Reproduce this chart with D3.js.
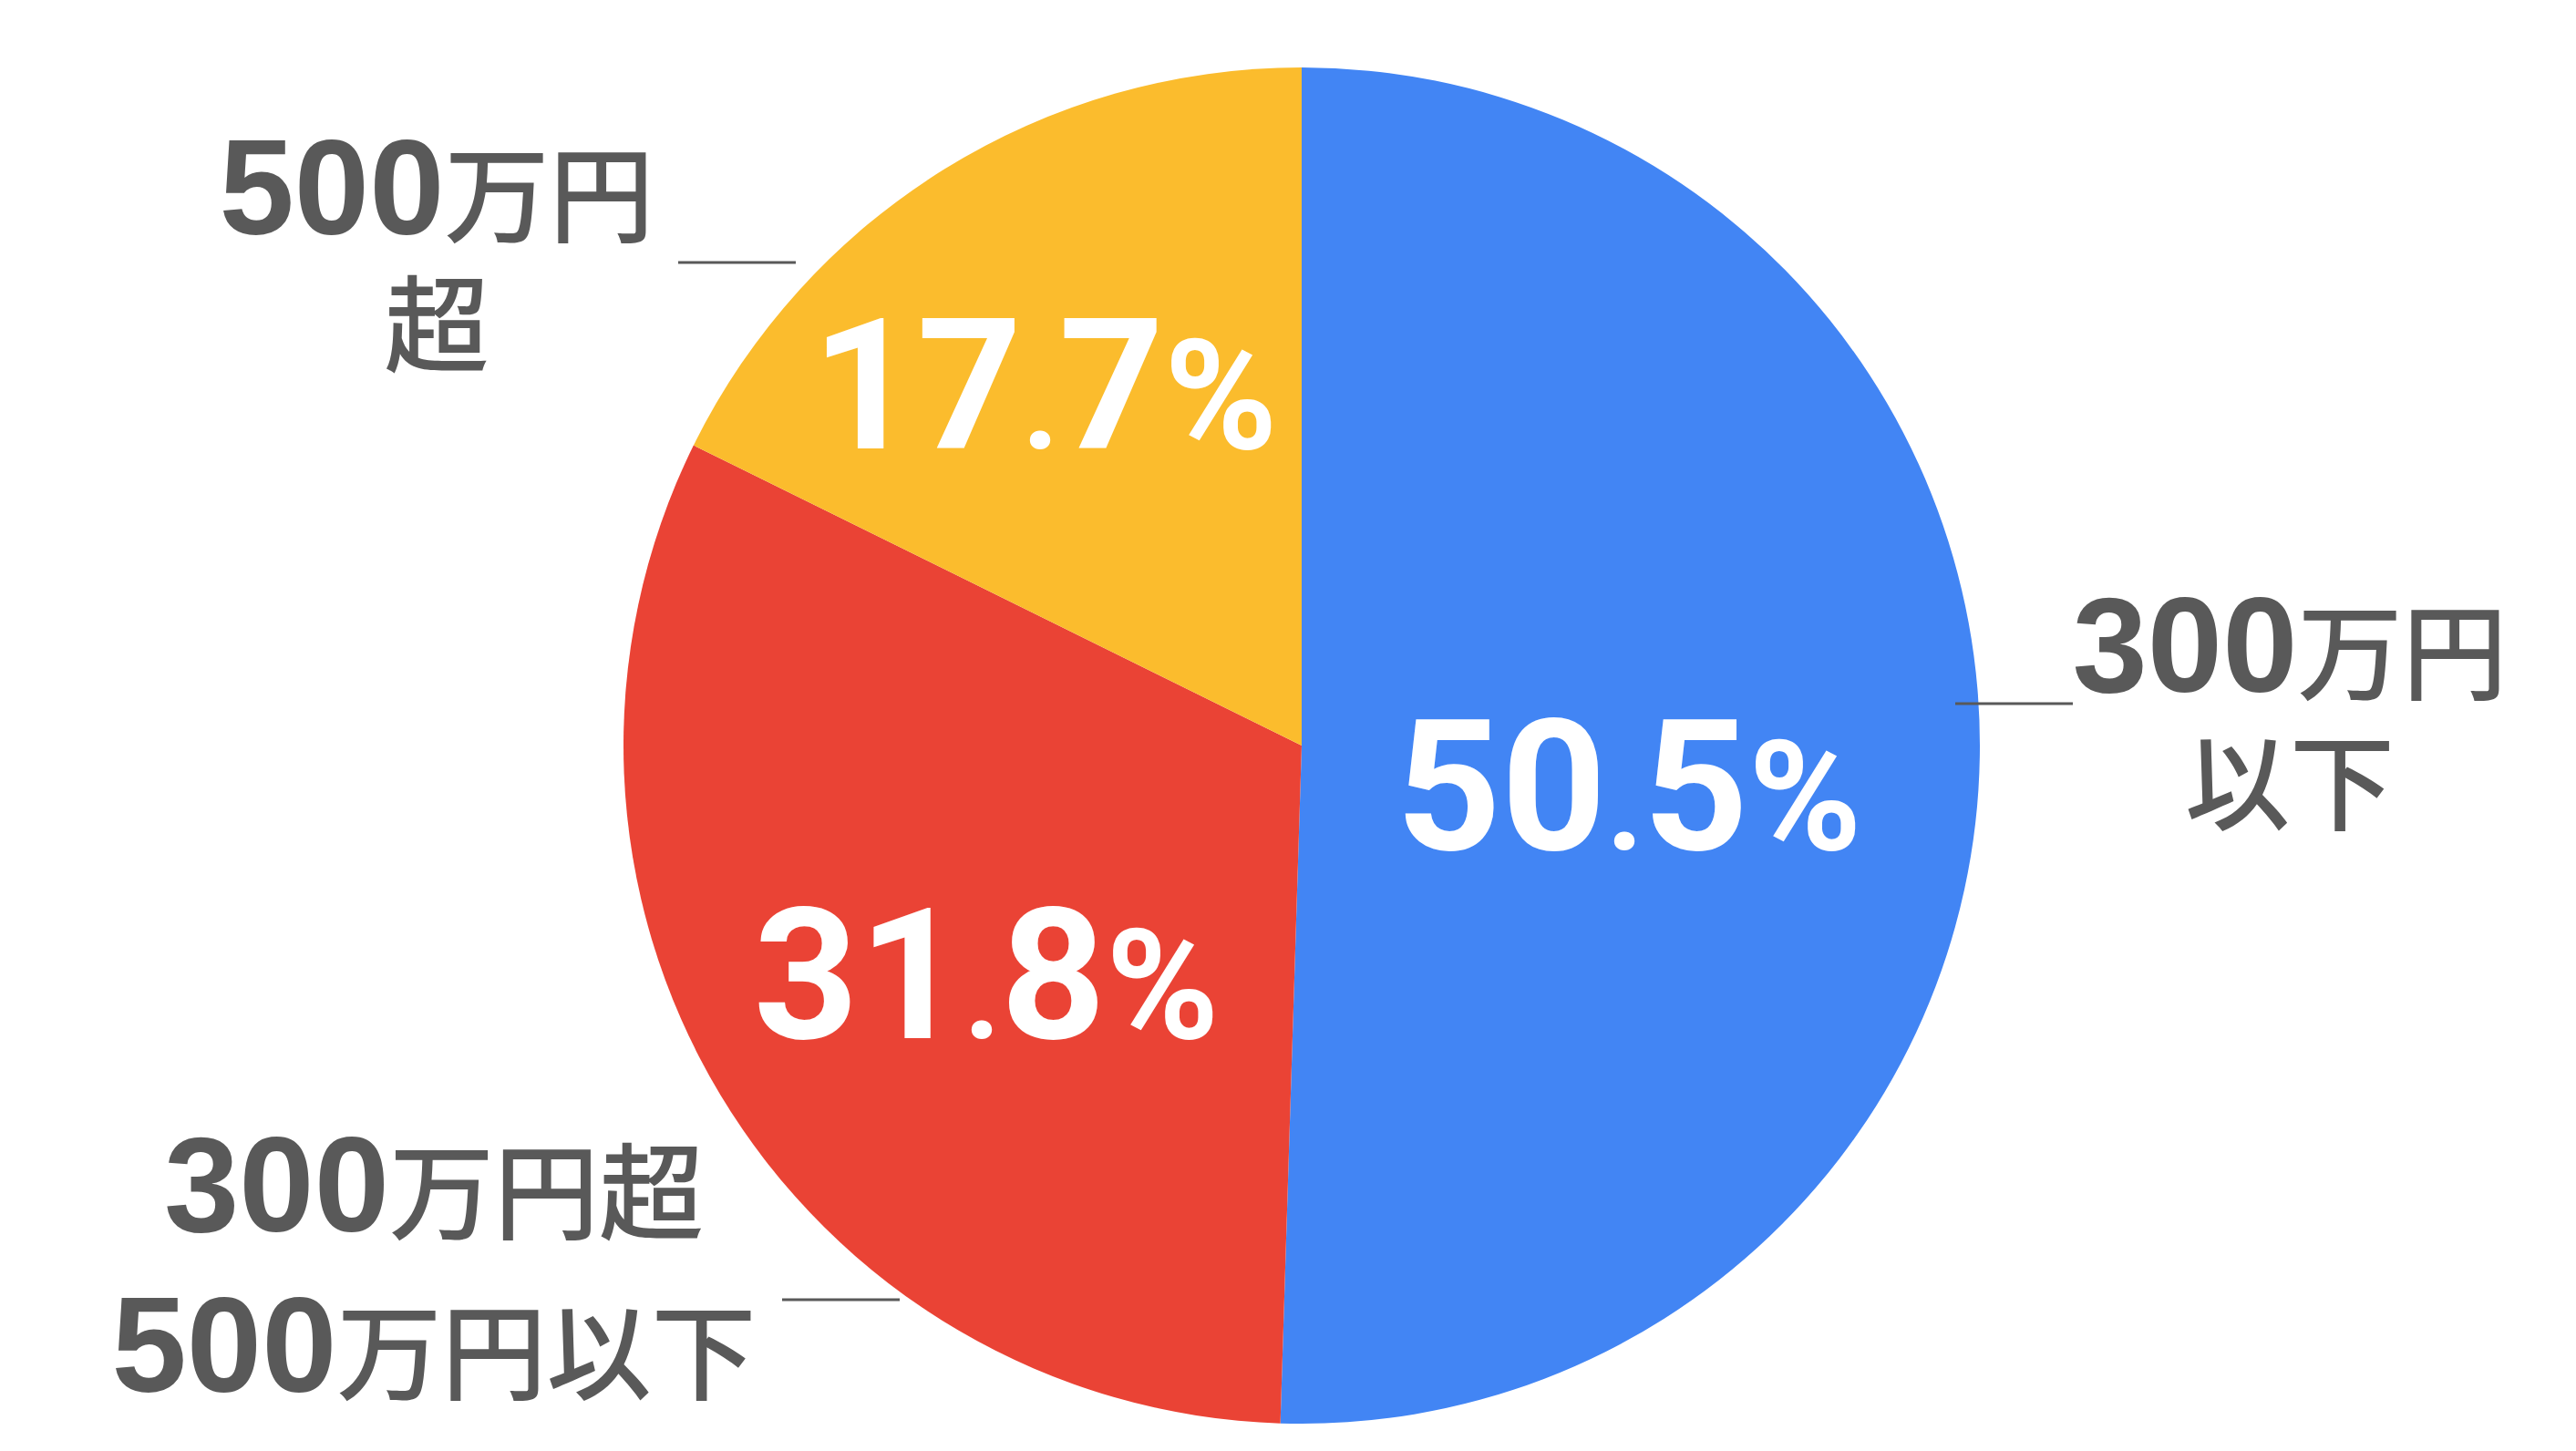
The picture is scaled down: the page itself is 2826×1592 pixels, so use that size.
<!DOCTYPE html>
<html><head><meta charset="utf-8">
<script src="https://cdn.jsdelivr.net/npm/d3@7"></script>
<style>html,body{margin:0;padding:0;background:#fff;overflow:hidden}</style>
</head><body><svg id="c"></svg>
<script>
// ---- data ----
const categories = ["300万円以下", "300万円超500万円以下", "500万円超"];
const values = [50.5, 31.8, 17.7];
const labelLines = [["300万円", "以下"], ["300万円超", "500万円以下"], ["500万円", "超"]];

// ---- style / layout ----
const sliceColors = ["#4285F4", "#EA4335", "#FBBC2D"];
const textGray = "#595959";
const W = 2826, H = 1592;
const cx = 1428, cy = 818, R = 744;
const pctLayout = [{x: 1787, y: 932}, {x: 1082, y: 1139}, {x: 1146, y: 492}];
const labelLayout = [
  {x: 2512, ys: [759, 902], leader: [2145, 2274, 772]},
  {x: 476, ys: [1351, 1527], leader: [858, 987, 1426]},
  {x: 479, ys: [257, 399], leader: [744, 873, 288]}
];
const pctFont = 'Roboto, "Liberation Sans", sans-serif';
const numFont = '"Liberation Sans", Arial, sans-serif';
const jpFont = '"Noto Sans CJK JP", sans-serif';

const svg = d3.select("#c").attr("width", W).attr("height", H);
const g = svg.append("g").attr("transform", `translate(${cx},${cy})`);

const pie = d3.pie().sort(null).value(d => d);
const arc = d3.arc().innerRadius(0).outerRadius(R);
const arcs = pie(values);

g.selectAll("path.slice").data(arcs).join("path")
  .attr("class", "slice")
  .attr("d", arc)
  .attr("fill", (d, i) => sliceColors[i]);

// percent labels
const fmt = d3.format(".1f");
arcs.forEach((d, i) => {
  const [ip, dp] = fmt(d.data).split(".");
  const t = svg.append("text")
    .attr("x", pctLayout[i].x).attr("y", pctLayout[i].y)
    .attr("text-anchor", "middle")
    .attr("fill", "#fff")
    .style("font-family", pctFont)
    .style("font-weight", 700);
  t.append("tspan").style("font-size", "201px").text(ip);
  t.append("tspan").style("font-size", "140px").text(".");
  t.append("tspan").style("font-size", "201px").text(dp);
  t.append("tspan").style("font-size", "168px").text("%");
});

// category labels
labelLines.forEach((lines, i) => {
  const L = labelLayout[i];
  lines.forEach((line, j) => {
    const t = svg.append("text")
      .attr("x", L.x).attr("y", L.ys[j])
      .attr("text-anchor", "middle")
      .attr("fill", textGray);
    const runs = line.match(/\d+|[^\d]+/g);
    runs.forEach(r => {
      const isNum = /^\d+$/.test(r);
      t.append("tspan")
        .style("font-family", isNum ? numFont : jpFont)
        .style("font-weight", isNum ? 700 : 500)
        .style("font-size", isNum ? "148px" : "115px")
        .text(r);
    });
  });
  const [x1, x2, y] = L.leader;
  svg.append("line")
    .attr("x1", x1).attr("x2", x2).attr("y1", y).attr("y2", y)
    .attr("stroke", textGray).attr("stroke-width", 3);
});
</script>
</body></html>
